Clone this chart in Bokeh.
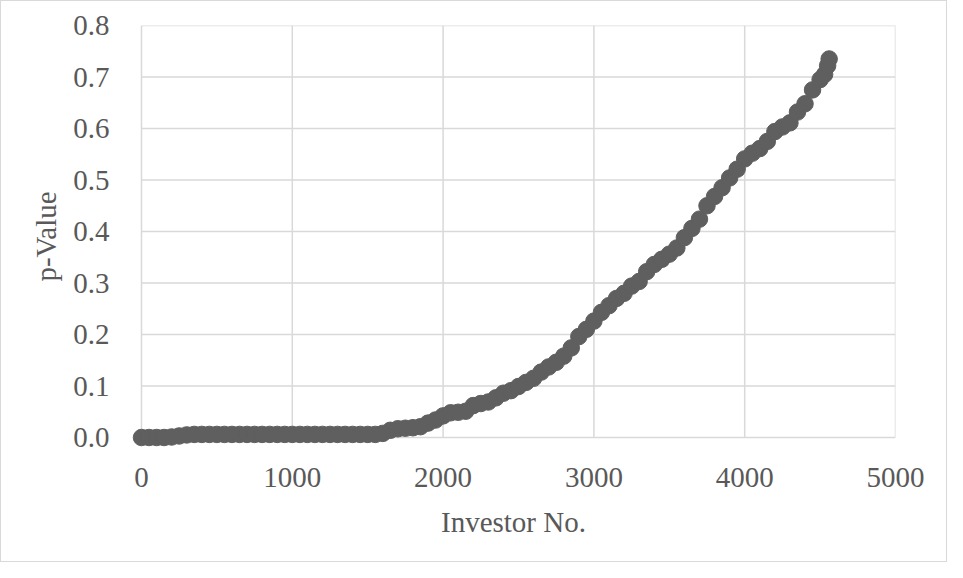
from bokeh.plotting import figure
from bokeh.models import Range1d, FixedTicker, NumeralTickFormatter
from bokeh.embed import file_html
from bokeh.resources import INLINE

investor_no = [0, 50, 100, 150, 200, 250, 300, 350, 400, 450, 500, 550, 600, 650, 700, 750,
               800, 850, 900, 950, 1000, 1050, 1100, 1150, 1200, 1250, 1300, 1350, 1400, 1450,
               1500, 1550, 1600, 1650, 1700, 1750, 1800, 1850, 1900, 1950, 2000, 2050, 2100,
               2150, 2200, 2250, 2300, 2350, 2400, 2450, 2500, 2550, 2600, 2650, 2700, 2750,
               2800, 2850, 2900, 2950, 3000, 3050, 3100, 3150, 3200, 3250, 3300, 3350, 3400,
               3450, 3500, 3550, 3600, 3650, 3700, 3750, 3800, 3850, 3900, 3950, 4000, 4050,
               4100, 4150, 4200, 4250, 4300, 4350, 4400, 4450, 4500, 4530, 4550, 4560]
p_value = [0.0, 0.0, 0.0, 0.0, 0.001, 0.003, 0.005, 0.006, 0.006, 0.006, 0.006, 0.006, 0.006,
           0.006, 0.006, 0.006, 0.006, 0.006, 0.006, 0.006, 0.006, 0.006, 0.006, 0.006, 0.006,
           0.006, 0.006, 0.006, 0.006, 0.006, 0.006, 0.006, 0.008, 0.014, 0.017, 0.018, 0.019,
           0.021, 0.028, 0.034, 0.042, 0.048, 0.049, 0.051, 0.062, 0.066, 0.069, 0.077, 0.086,
           0.091, 0.099, 0.107, 0.115, 0.127, 0.137, 0.146, 0.158, 0.174, 0.196, 0.210, 0.226,
           0.243, 0.256, 0.270, 0.280, 0.294, 0.303, 0.322, 0.336, 0.346, 0.356, 0.368, 0.388,
           0.406, 0.424, 0.450, 0.468, 0.485, 0.504, 0.521, 0.541, 0.552, 0.561, 0.575, 0.594,
           0.603, 0.611, 0.632, 0.648, 0.675, 0.695, 0.705, 0.722, 0.735]

x_ticks = [0, 1000, 2000, 3000, 4000, 5000]
y_ticks = [0.0, 0.1, 0.2, 0.3, 0.4, 0.5, 0.6, 0.7, 0.8]

FONT = "Liberation Serif"
TXT = "#595959"
GRID = "#d9d9d9"

X0, X1 = 0, 5000
Y0, Y1 = 0.0, 0.8

# ranges padded slightly so markers at 0 are not clipped by the frame
p = figure(width=947, height=562, output_backend="svg", toolbar_location=None,
           x_range=Range1d(-66.3, X1), y_range=Range1d(-0.0194, Y1),
           min_border_left=130, min_border_right=53, min_border_top=24, min_border_bottom=116,
           styles={"border": "1px solid #d9d9d9"})
p.outline_line_color = None
p.xgrid.visible = False
p.ygrid.visible = False

# grid lines limited to the data area
p.segment(x0=x_ticks, y0=[Y0] * len(x_ticks), x1=x_ticks, y1=[Y1] * len(x_ticks),
          line_color=GRID, line_width=1.5)
p.segment(x0=[X0] * len(y_ticks), y0=y_ticks, x1=[X1] * len(y_ticks), y1=y_ticks,
          line_color=GRID, line_width=1.5)

p.scatter(investor_no, p_value, size=16.5, fill_color="#5f5f5f", line_color="#5f5f5f")

p.xaxis.ticker = FixedTicker(ticks=x_ticks)
p.yaxis.ticker = FixedTicker(ticks=y_ticks)
p.yaxis.formatter = NumeralTickFormatter(format="0.0")

for ax in (p.xaxis, p.yaxis):
    ax.axis_line_color = None
    ax.major_tick_line_color = None
    ax.minor_tick_line_color = None
    ax.major_label_text_font = FONT
    ax.major_label_text_font_size = "29px"
    ax.major_label_text_color = TXT
    ax.axis_label_text_font = FONT
    ax.axis_label_text_font_size = "29px"
    ax.axis_label_text_color = TXT
    ax.axis_label_text_font_style = "normal"

p.xaxis.axis_label = "Investor No."
p.yaxis.axis_label = "p-Value"
p.xaxis.major_label_standoff = 14
p.yaxis.major_label_standoff = 16
p.xaxis.axis_label_standoff = 16
p.yaxis.axis_label_standoff = 8

open("out.html", "w").write(file_html(p, INLINE))
